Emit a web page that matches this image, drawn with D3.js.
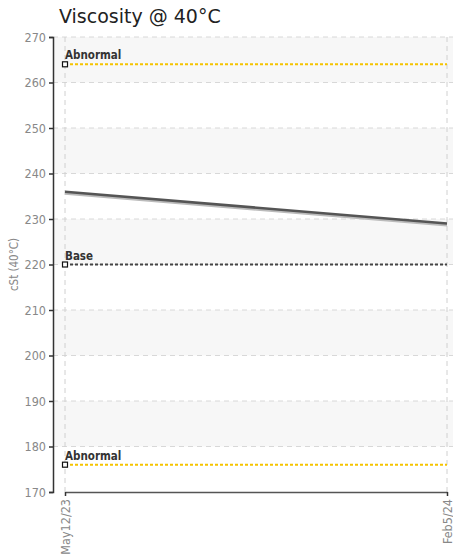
<!DOCTYPE html>
<html>
<head>
<meta charset="utf-8">
<style>
    body { margin: 0; background: #fff; }
    .tick text { font-family: "DejaVu Sans Condensed", "DejaVu Sans", sans-serif; }
</style>
</head>
<body>
<svg width="453" height="558"></svg>
<script src="https://d3js.org/d3.v7.min.js"></script>
<script>
    // data
    var dates = ["May12/23", "Feb5/24"];
    var viscosity = [236, 229];
    var limitNames = ["Abnormal", "Base", "Abnormal"];
    var limitValues = [264, 220, 176];
    var limitColors = ["#f5c400", "#444", "#f5c400"];
    var yTicks = [170, 180, 190, 200, 210, 220, 230, 240, 250, 260, 270];

    var svg = d3.select("svg"),
        margin = { top: 37, right: 0, bottom: 66, left: 53 },
        width = +svg.attr("width") - margin.left - margin.right,
        height = +svg.attr("height") - margin.top - margin.bottom,
        g = svg.append("g").attr("transform", "translate(" + margin.left + "," + margin.top + ")");

    var x = d3.scalePoint()
        .domain(dates)
        .range([12, 394]);

    var y = d3.scaleLinear()
        .domain([170, 270])
        .range([height, 0]);

    // alternating bands
    var bands = d3.range(0, yTicks.length - 1).filter(function (i) { return i % 2 === 0; });
    g.append("g").selectAll("rect")
        .data(bands)
        .enter().append("rect")
        .attr("x", 0)
        .attr("width", width)
        .attr("y", function (i) { return y(270 - i * 10); })
        .attr("height", function (i) { return y(260 - i * 10) - y(270 - i * 10); })
        .attr("fill", "#f7f7f7");

    // horizontal grid
    g.append("g").selectAll("line")
        .data(yTicks.slice(1))
        .enter().append("line")
        .attr("x1", 0).attr("x2", width)
        .attr("y1", function (d) { return y(d); })
        .attr("y2", function (d) { return y(d); })
        .attr("stroke", "#d8d8d8")
        .attr("stroke-dasharray", "5,4");

    // vertical grid
    g.append("g").selectAll("line")
        .data(dates)
        .enter().append("line")
        .attr("x1", function (d) { return x(d); })
        .attr("x2", function (d) { return x(d); })
        .attr("y1", 0).attr("y2", height)
        .attr("stroke", "#d0d0d0")
        .attr("stroke-dasharray", "5,4");

    // limit lines
    var limits = limitNames.map(function (n, i) {
        return { name: n, value: limitValues[i], color: limitColors[i] };
    });
    var lim = g.append("g").selectAll("g")
        .data(limits)
        .enter().append("g");

    lim.append("line")
        .attr("x1", x(dates[0]))
        .attr("x2", x(dates[dates.length - 1]))
        .attr("y1", function (d) { return y(d.value); })
        .attr("y2", function (d) { return y(d.value); })
        .attr("stroke", function (d) { return d.color; })
        .attr("stroke-width", 2)
        .attr("stroke-dasharray", "3,2");

    lim.append("rect")
        .attr("x", x(dates[0]) - 2.5)
        .attr("y", function (d) { return y(d.value) - 2.5; })
        .attr("width", 5)
        .attr("height", 5)
        .attr("fill", "#fff")
        .attr("stroke", "#111")
        .attr("stroke-width", 1.2);

    lim.append("text")
        .attr("x", x(dates[0]))
        .attr("y", function (d) { return y(d.value) - 5; })
        .attr("font-family", "DejaVu Sans Condensed, DejaVu Sans, sans-serif")
        .attr("font-size", 11.5)
        .attr("font-weight", "bold")
        .attr("fill", "#333")
        .text(function (d) { return d.name; });

    // data line
    var line = d3.line()
        .x(function (d, i) { return x(dates[i]); })
        .y(function (d) { return y(d); });

    g.append("path")
        .datum(viscosity)
        .attr("fill", "none")
        .attr("stroke", "#bbb")
        .attr("stroke-width", 3)
        .attr("transform", "translate(0,1.5)")
        .attr("d", line);

    g.append("path")
        .datum(viscosity)
        .attr("fill", "none")
        .attr("stroke", "#555")
        .attr("stroke-width", 2.5)
        .attr("d", line);

    // axes
    var yAxis = g.append("g")
        .call(d3.axisLeft(y).tickValues(yTicks).tickSize(4).tickPadding(3));
    yAxis.select(".domain").attr("stroke", "#333").attr("stroke-width", 1.5);
    yAxis.selectAll(".tick line").attr("stroke", "#333").attr("stroke-width", 1.5);
    yAxis.selectAll(".tick text").attr("fill", "#888").attr("font-size", 12.5);

    var xAxis = g.append("g")
        .attr("transform", "translate(0," + height + ")")
        .call(d3.axisBottom(x).tickSize(4).tickSizeOuter(0));
    xAxis.select(".domain").attr("stroke", "#555").attr("stroke-width", 1.5);
    xAxis.selectAll(".tick line").attr("stroke", "#333").attr("stroke-width", 1.5);
    xAxis.selectAll(".tick text")
        .attr("fill", "#888")
        .attr("font-size", 12.5)
        .attr("transform", "rotate(-90)")
        .attr("text-anchor", "end")
        .attr("x", -7)
        .attr("y", 0)
        .attr("dy", "0.35em");

    // y label
    svg.append("text")
        .attr("transform", "translate(18," + (margin.top + height / 2) + ") rotate(-90)")
        .attr("text-anchor", "middle")
        .attr("font-family", "DejaVu Sans Condensed, DejaVu Sans, sans-serif")
        .attr("font-size", 11.5)
        .attr("fill", "#888")
        .text("cSt (40°C)");

    // title
    svg.append("text")
        .attr("x", 59)
        .attr("y", 23)
        .attr("font-family", "DejaVu Sans, sans-serif")
        .attr("font-size", 19)
        .attr("fill", "#222")
        .text("Viscosity @ 40°C");
</script>
</body>
</html>
